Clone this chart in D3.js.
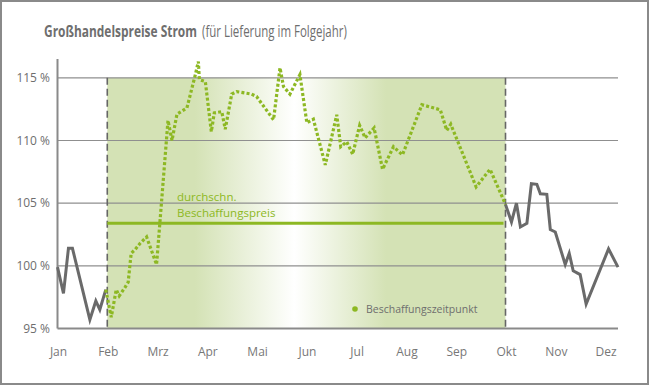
<!DOCTYPE html>
<html>
<head>
<meta charset="utf-8">
<script src="https://cdn.jsdelivr.net/npm/d3@7"></script>
<style>
  body { margin: 0; background: #fff; }
  svg { display: block; }
</style>
</head>
<body>
<svg class="chart"></svg>
<script>
// *********** DATA ***************** //
var months = ["Jan", "Feb", "Mrz", "Apr", "Mai", "Jun", "Jul", "Aug", "Sep", "Okt", "Nov", "Dez"];
var yTicks = [95, 100, 105, 110, 115];

// [month index, price in %] - before the procurement window
var beforeSeries = [
  [0.00, 99.9], [0.12, 97.8], [0.22, 101.4], [0.30, 101.4], [0.65, 95.7],
  [0.77, 97.2], [0.85, 96.5], [0.97, 98.1]
];

// procurement window (dotted)
var procurementSeries = [
  [0.97, 98.1], [1.08, 95.9], [1.18, 98.1], [1.24, 97.6], [1.36, 98.3],
  [1.42, 98.7], [1.48, 101.0], [1.56, 101.3], [1.66, 101.8], [1.79, 102.3],
  [1.99, 100.1], [2.22, 111.6], [2.30, 110.0], [2.40, 112.1], [2.60, 112.6],
  [2.76, 115.1], [2.83, 116.3], [2.85, 114.85], [2.97, 114.7], [3.09, 110.7],
  [3.15, 112.2], [3.30, 112.3], [3.37, 110.9], [3.50, 113.7], [3.60, 113.9],
  [3.90, 113.7], [4.00, 113.5], [4.34, 111.65], [4.47, 115.8], [4.54, 114.3],
  [4.67, 113.7], [4.87, 115.25], [5.01, 111.4], [5.14, 111.7], [5.38, 108.05],
  [5.61, 112.05], [5.69, 109.5], [5.81, 109.9], [5.93, 108.9], [6.07, 111.2],
  [6.18, 110.2], [6.36, 111.0], [6.53, 107.7], [6.75, 109.5], [6.93, 108.85],
  [7.32, 112.85], [7.69, 112.45], [7.82, 110.8], [7.90, 111.3], [8.41, 106.3],
  [8.69, 107.7], [9.00, 104.9]
];

// after the procurement window
var afterSeries = [
  [9.00, 104.9], [9.12, 103.5], [9.22, 105.0], [9.30, 103.1], [9.43, 103.4],
  [9.52, 106.55], [9.63, 106.5], [9.70, 105.75], [9.83, 105.7], [9.90, 102.9],
  [10.00, 102.7], [10.20, 100.1], [10.28, 101.0], [10.36, 99.6], [10.50, 99.3],
  [10.62, 96.95], [11.07, 101.35], [11.26, 99.9]
];

var windowStart = 1;   // Feb
var windowEnd = 9;     // Okt
var avgPrice = 103.4;
// *********** END DATA ************* //

var width = 650, height = 386;
var green = "#8db823", grey = "#6a6a6a";

var svg = d3.select(".chart")
  .attr("width", width)
  .attr("height", height)
  .style("font-family", "'Open Sans', sans-serif");

var x = d3.scaleLinear().domain([0, 11.26]).range([57.5, 618]);
var y = d3.scaleLinear().domain([95, 116.5]).range([328.5, 59]);

// outer frame
svg.append("rect")
  .attr("x", 1).attr("y", 1)
  .attr("width", width - 3).attr("height", height - 3)
  .attr("fill", "#fff")
  .attr("stroke", "#8a8a8a")
  .attr("stroke-width", 2)

// *********** TITLE ***************** //
// reference font is narrower, so squeeze each part horizontally to fit
function squeezedText(tx, ty, target, weight, str) {
  var t = svg.append("text")
    .style("font-size", 15.5)
    .style("font-weight", weight)
    .style("fill", "#6e6e6e")
    .text(str)
  var natural = t.node().getComputedTextLength();
  t.attr("transform", "translate(" + tx + "," + ty + ") scale(" + (target / natural) + ",1)")
  return t;
}
squeezedText(44, 37, 153, "bold", "Großhandelspreise Strom")
squeezedText(202, 37, 145, "normal", "(für Lieferung im Folgejahr)")

// *********** SHADED WINDOW ***************** //
var grad = svg.append("defs").append("linearGradient")
  .attr("id", "windowGrad")
  .attr("x1", "0%").attr("x2", "100%")
  .attr("y1", "0%").attr("y2", "0%")
var stops = [[0, "#d4e2b5"], [0.22, "#d4e2b5"], [0.47, "#ffffff"], [0.70, "#d4e2b5"], [1, "#d4e2b5"]];
grad.selectAll("stop").data(stops).enter().append("stop")
  .attr("offset", function(d) { return d[0]; })
  .attr("stop-color", function(d) { return d[1]; })

svg.append("rect")
  .attr("x", x(windowStart))
  .attr("y", y(115))
  .attr("width", x(windowEnd) - x(windowStart))
  .attr("height", y(95) - y(115))
  .attr("fill", "url(#windowGrad)")

// *********** GRID / AXES ***************** //
svg.append("g").selectAll("line")
  .data(yTicks.filter(function(d) { return d > 95; }))
  .enter().append("line")
  .attr("x1", x(0)).attr("x2", x.range()[1])
  .attr("y1", function(d) { return y(d); })
  .attr("y2", function(d) { return y(d); })
  .attr("stroke", "#8f8f8f")
  .attr("stroke-width", 1.2)

svg.append("g").selectAll("text")
  .data(yTicks)
  .enter().append("text")
  .attr("x", 50)
  .attr("y", function(d) { return y(d); })
  .attr("dy", "0.35em")
  .attr("text-anchor", "end")
  .style("font-size", 12)
  .style("fill", "#6e6e6e")
  .text(function(d) { return d + " %"; })

// y axis + x axis baseline
svg.append("line")
  .attr("x1", x(0)).attr("x2", x(0))
  .attr("y1", y.range()[1]).attr("y2", y(95))
  .attr("stroke", "#8a8a8a")
  .attr("stroke-width", 2)
svg.append("line")
  .attr("x1", x(0)).attr("x2", x.range()[1])
  .attr("y1", y(95)).attr("y2", y(95))
  .attr("stroke", "#8a8a8a")
  .attr("stroke-width", 2)

svg.append("g").selectAll("text")
  .data(months)
  .enter().append("text")
  .attr("x", function(d, i) { return x(i) + 1; })
  .attr("y", 356)
  .attr("text-anchor", "middle")
  .style("font-size", 12)
  .style("fill", "#777")
  .text(function(d) { return d; })

// dashed window borders
svg.append("g").selectAll("line")
  .data([windowStart, windowEnd])
  .enter().append("line")
  .attr("x1", function(d) { return x(d); })
  .attr("x2", function(d) { return x(d); })
  .attr("y1", y(115)).attr("y2", y(95))
  .attr("stroke", "#666")
  .attr("stroke-width", 1.6)
  .attr("stroke-dasharray", "7,4")

// *********** AVERAGE LINE ***************** //
svg.append("line")
  .attr("x1", x(windowStart)).attr("x2", x(windowEnd) - 2)
  .attr("y1", y(avgPrice)).attr("y2", y(avgPrice))
  .attr("stroke", green)
  .attr("stroke-width", 3)

svg.append("text")
  .attr("x", 177)
  .attr("y", 201)
  .style("font-size", 11.5)
  .style("fill", green)
  .text("durchschn.")
svg.append("text")
  .attr("x", 177)
  .attr("y", 217)
  .style("font-size", 11.5)
  .style("fill", green)
  .text("Beschaffungspreis")

// *********** PRICE LINES ***************** //
var line = d3.line()
  .x(function(d) { return x(d[0]); })
  .y(function(d) { return y(d[1]); })

svg.append("path")
  .datum(beforeSeries)
  .attr("d", line)
  .attr("fill", "none")
  .attr("stroke", grey)
  .attr("stroke-width", 3)

svg.append("path")
  .datum(afterSeries)
  .attr("d", line)
  .attr("fill", "none")
  .attr("stroke", grey)
  .attr("stroke-width", 3)

svg.append("path")
  .datum(procurementSeries)
  .attr("d", line)
  .attr("fill", "none")
  .attr("stroke", green)
  .attr("stroke-width", 3.2)
  .attr("stroke-dasharray", "3,2.2")

// *********** LEGEND ***************** //
svg.append("circle")
  .attr("cx", 355).attr("cy", 309)
  .attr("r", 2.8)
  .attr("fill", green)
svg.append("text")
  .attr("x", 366)
  .attr("y", 313)
  .style("font-size", 10.5)
  .style("fill", "#6e6e6e")
  .text("Beschaffungszeitpunkt")
</script>
</body>
</html>
